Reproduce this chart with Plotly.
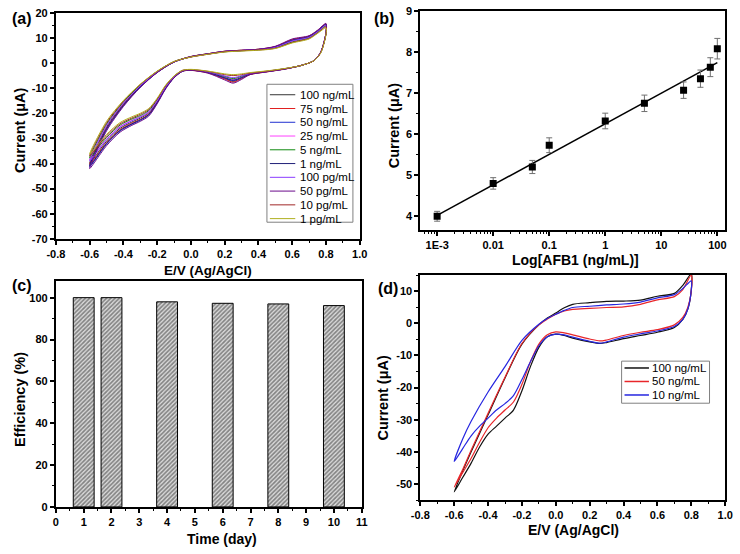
import plotly.graph_objects as go

W, H = 740, 554

# ---------------- Panel (a) data ----------------
a_names = ["100 ng/mL", "75 ng/mL", "50 ng/mL", "25 ng/mL", "5 ng/mL",
           "1 ng/mL", "100 pg/mL", "50 pg/mL", "10 pg/mL", "1 pg/mL"]
a_colors = ["#333333", "#e02020", "#2030d0", "#ff40ff", "#108a10",
            "#202078", "#8a3cff", "#6a0a8a", "#a02828", "#b0b020"]
a_x_fwd = [-0.6, -0.5, -0.4, -0.3, -0.2, -0.1, 0.0, 0.1, 0.2, 0.3, 0.4, 0.5, 0.6, 0.7, 0.75, 0.8]
a_x_rev = [0.8, 0.77, 0.73, 0.65, 0.55, 0.45, 0.35, 0.3, 0.25, 0.2, 0.1, 0.0, -0.05, -0.1,
           -0.15, -0.2, -0.25, -0.3, -0.35, -0.42, -0.5, -0.6]
a_fwd = [
    [-40, -25.5, -16.3, -9.2, -3.6, 0.5, 2.6, 3.7, 4.7, 5.1, 5.5, 6.5, 9.2, 10.6, 12.8, 15.5],
    [-40.5, -26, -16.6, -9.4, -3.7, 0.5, 2.6, 3.7, 4.7, 5.1, 5.5, 6.6, 9.4, 10.8, 13, 15.6],
    [-41.3, -26.5, -17, -9.5, -3.7, 0.4, 2.5, 3.6, 4.6, 5.0, 5.4, 6.4, 9.0, 10.5, 12.7, 15.3],
    [-38.6, -24.8, -15.8, -8.9, -3.4, 0.5, 2.5, 3.6, 4.6, 5.0, 5.4, 6.2, 8.6, 10.2, 12.4, 15.0],
    [-37.8, -24.3, -15.5, -8.7, -3.3, 0.6, 2.5, 3.6, 4.5, 4.9, 5.3, 6.1, 8.4, 10.0, 12.2, 14.8],
    [-41, -26.2, -16.8, -9.5, -3.7, 0.4, 2.5, 3.6, 4.6, 5.0, 5.4, 6.4, 9.0, 10.5, 12.7, 15.4],
    [-39, -25, -16, -9, -3.5, 0.5, 2.5, 3.6, 4.6, 5.0, 5.4, 6.3, 8.8, 10.3, 12.5, 15.1],
    [-42, -27, -17.3, -9.7, -3.8, 0.4, 2.6, 3.7, 4.7, 5.1, 5.5, 6.7, 9.6, 10.9, 13.1, 15.8],
    [-37, -23.8, -15.2, -8.5, -3.3, 0.6, 2.4, 3.5, 4.5, 4.9, 5.2, 5.9, 8.2, 9.8, 12.0, 14.4],
    [-36.3, -23.2, -14.9, -8.4, -3.2, 0.6, 2.4, 3.5, 4.4, 4.8, 5.1, 5.8, 8.0, 9.6, 11.8, 14.0],
]
a_rev = [
    [11.8, 4.4, 1, -1, -2.4, -3.4, -4.5, -6.0, -7.3, -6.1, -3.8, -2.8, -3.2, -5.6, -9.7, -15.3, -19.9, -21.9, -23.5, -26, -31.1, -40],
    [12, 4.5, 1, -1, -2.4, -3.5, -4.6, -6.2, -7.6, -6.3, -3.9, -2.9, -3.2, -5.7, -9.9, -15.6, -20.3, -22.4, -23.9, -26.5, -31.7, -40.5],
    [11.9, 4.5, 1, -1, -2.4, -3.4, -4.4, -5.8, -7.0, -5.9, -3.7, -2.8, -3.2, -5.8, -10.1, -15.9, -20.7, -22.8, -24.4, -27, -32.3, -41.3],
    [12, 4.5, 1, -1, -2.4, -3.4, -4.3, -5.4, -6.5, -5.5, -3.6, -2.8, -3.1, -5.4, -9.4, -14.9, -19.3, -21.3, -22.8, -25.2, -30.2, -38.6],
    [11.8, 4.4, 1, -1, -2.3, -3.3, -4.2, -5.2, -6.2, -5.3, -3.5, -2.7, -3.0, -5.3, -9.2, -14.6, -18.9, -20.9, -22.3, -24.7, -29.6, -37.8],
    [12, 4.5, 1, -1, -2.4, -3.4, -4.4, -5.7, -6.8, -5.8, -3.7, -2.8, -3.2, -5.8, -10, -15.8, -20.5, -22.6, -24.2, -26.8, -32, -41],
    [12, 4.5, 1, -1, -2.3, -3.3, -4.2, -5.0, -5.8, -5.1, -3.5, -2.7, -3.1, -5.5, -9.5, -15, -19.5, -21.5, -23, -25.5, -30.5, -39],
    [12.1, 4.6, 1, -1, -2.5, -3.5, -4.6, -6.5, -8.0, -6.7, -4.0, -2.9, -3.3, -5.9, -10.3, -16.2, -21.1, -23.2, -24.8, -27.5, -32.9, -42],
    [11.6, 4.3, 1, -1, -2.3, -3.2, -4.0, -4.6, -5.0, -4.6, -3.3, -2.6, -2.9, -5.2, -9.0, -14.3, -18.5, -20.4, -21.9, -24.2, -29, -37],
    [11.4, 4.2, 1, -1, -2.2, -3.1, -3.8, -4.3, -4.6, -4.3, -3.2, -2.5, -2.9, -5.1, -8.8, -14, -18.1, -20, -21.4, -23.7, -28.4, -36.3],
]

# ---------------- Panel (b) data ----------------
b_conc = [0.001, 0.01, 0.05, 0.1, 1, 5, 25, 50, 75, 100]
b_current = [4.0, 4.8, 5.2, 5.73, 6.32, 6.75, 7.07, 7.35, 7.63, 8.08]
b_err = [0.12, 0.14, 0.16, 0.18, 0.19, 0.2, 0.2, 0.21, 0.23, 0.25]
b_fit_x = [0.001, 100]
b_fit_y = [4.02, 7.74]
b_tickvals = [0.001, 0.01, 0.1, 1, 10, 100]
b_ticktext = ["1E-3", "0.01", "0.1", "1", "10", "100"]

# ---------------- Panel (c) data ----------------
c_days = [1, 2, 4, 6, 8, 10]
c_eff = [100, 100, 98, 97.3, 97, 96.2]

# ---------------- Panel (d) data ----------------
d_names = ["100 ng/mL", "50 ng/mL", "10 ng/mL"]
d_colors = ["#111111", "#e8262a", "#2626e0"]
d_x_fwd = [-0.6, -0.55, -0.5, -0.4, -0.3, -0.2, -0.1, -0.05, 0.0, 0.05, 0.1, 0.2, 0.3, 0.4, 0.5, 0.6, 0.7, 0.75, 0.8]
d_x_rev = [0.8, 0.78, 0.75, 0.7, 0.6, 0.5, 0.4, 0.3, 0.26, 0.2, 0.1, 0.05, 0.0, -0.05, -0.1,
           -0.15, -0.2, -0.25, -0.3, -0.35, -0.4, -0.45, -0.5, -0.55, -0.6]
d_fwd = [
    [-52.5, -46, -40, -28.5, -17, -6.5, -0.5, 1.6, 3.2, 4.8, 5.9, 6.4, 6.8, 6.9, 7.2, 8.4, 9.3, 11.8, 15.4],
    [-51, -45.5, -39.5, -28, -16.8, -6.3, -0.5, 1.3, 2.8, 3.8, 4.3, 4.6, 4.9, 5.1, 5.9, 7.3, 8.3, 10.5, 15.0],
    [-43, -36, -30.5, -21.4, -13.5, -5.3, -0.3, 1.5, 2.8, 4.0, 4.9, 5.3, 5.7, 6.0, 6.6, 7.9, 8.9, 10.8, 13.2],
]
d_rev = [
    [10.3, 4.5, 1.2, -1.3, -2.8, -3.8, -4.8, -6.0, -6.3, -5.8, -4.6, -3.8, -3.4, -4.2, -7.5, -13.5, -21, -27, -29.5, -32, -34.5, -38.5, -43.5, -48, -52.5],
    [10.0, 5.0, 1.8, -0.5, -2.0, -2.8, -3.8, -5.2, -5.5, -4.9, -3.6, -3.0, -2.7, -3.6, -6.5, -12, -19, -24.5, -27, -29.5, -32.5, -37, -42, -46.5, -51],
    [10.5, 4.5, 1.2, -1.0, -2.4, -3.3, -4.3, -5.8, -6.2, -5.6, -4.3, -3.6, -3.4, -4.2, -7.0, -12, -17.5, -22.5, -25, -27, -29.5, -32, -35, -39, -43],
]

# tick labels (plain hyphen minus as in the original)
e_tickvals = [-0.8, -0.6, -0.4, -0.2, 0.0, 0.2, 0.4, 0.6, 0.8, 1.0]
e_ticktext = ["-0.8", "-0.6", "-0.4", "-0.2", "0.0", "0.2", "0.4", "0.6", "0.8", "1.0"]
a_ytickvals = [20, 10, 0, -10, -20, -30, -40, -50, -60, -70]
a_yticktext = ["20", "10", "0", "-10", "-20", "-30", "-40", "-50", "-60", "-70"]
d_ytickvals = [10, 0, -10, -20, -30, -40, -50]
d_yticktext = ["10", "0", "-10", "-20", "-30", "-40", "-50"]

FONT = "Liberation Sans, Arial, sans-serif"


def pxx(x):
    return x / W


def pxy(y):
    return 1 - y / H


fig = go.Figure()

for name, col, yf, yr in zip(a_names, a_colors, a_fwd, a_rev):
    fig.add_trace(go.Scatter(x=a_x_fwd + a_x_rev, y=yf + yr, mode="lines", name=name,
                             line=dict(color=col, width=1, shape="spline", smoothing=0.8),
                             showlegend=False, xaxis="x", yaxis="y"))

fig.add_trace(go.Scatter(x=b_fit_x, y=b_fit_y, mode="lines", line=dict(color="black", width=1.5),
                         showlegend=False, xaxis="x2", yaxis="y2"))
fig.add_trace(go.Scatter(x=b_conc, y=b_current, mode="markers",
                         marker=dict(symbol="square", size=7, color="black"),
                         error_y=dict(type="data", array=b_err, color="#707070", thickness=1, width=3),
                         showlegend=False, xaxis="x2", yaxis="y2"))

fig.add_trace(go.Bar(x=c_days, y=c_eff, width=0.75,
                     marker=dict(color="#dcdcdc", line=dict(color="black", width=1),
                                 pattern=dict(shape="/", fgcolor="#2a2a2a", bgcolor="#dcdcdc",
                                              size=3, solidity=0.55)),
                     showlegend=False, xaxis="x3", yaxis="y3"))

for name, col, yf, yr in zip(d_names, d_colors, d_fwd, d_rev):
    fig.add_trace(go.Scatter(x=d_x_fwd + d_x_rev, y=yf + yr, mode="lines", name=name,
                             line=dict(color=col, width=1.2, shape="spline", smoothing=0.8),
                             showlegend=False, xaxis="x4", yaxis="y4"))


def axis(**kw):
    d = dict(showline=True, linewidth=2, linecolor="black", mirror=True, ticks="outside",
             ticklen=4, tickwidth=1.5, tickcolor="black", showgrid=False, zeroline=False,
             tickfont=dict(family=FONT, size=11, color="black", weight="bold"))
    d.update(kw)
    return d


minor_x = dict(ticks="outside", ticklen=2, tickwidth=1, tickcolor="black", tickmode="linear",
               tick0=-0.8, dtick=0.1, showgrid=False)

fig.update_layout(
    width=W, height=H, margin=dict(l=0, r=0, t=0, b=0),
    plot_bgcolor="white", paper_bgcolor="white", showlegend=False,
    font=dict(family=FONT, color="black"),
    xaxis=axis(domain=[pxx(48), pxx(359)], anchor="y", range=[-0.8, 1.0],
               tickmode="array", tickvals=e_tickvals, ticktext=e_ticktext, minor=minor_x),
    yaxis=axis(domain=[pxy(238), pxy(7)], anchor="x", range=[-70, 20],
               tickmode="array", tickvals=a_ytickvals, ticktext=a_yticktext,
               minor=dict(ticks="outside", ticklen=2, tickwidth=1, tickcolor="black",
                          tickmode="linear", tick0=0, dtick=5)),
    xaxis2=axis(domain=[pxx(421), pxx(733)], anchor="y2", type="log", range=[-3.3, 2.14],
                tickmode="array", tickvals=b_tickvals, ticktext=b_ticktext,
                minor=dict(ticks="outside", ticklen=2, tickwidth=1, tickcolor="black", dtick="D1")),
    yaxis2=axis(domain=[pxy(229), pxy(5)], anchor="x2", range=[3.665, 9], dtick=1,
                minor=dict(ticks="outside", ticklen=2, tickwidth=1, tickcolor="black", dtick=0.5)),
    xaxis3=axis(domain=[pxx(48), pxx(361)], anchor="y3", range=[0, 11], dtick=1,
                minor=dict(ticks="outside", ticklen=2, tickwidth=1, tickcolor="black", dtick=0.5)),
    yaxis3=axis(domain=[pxy(512), pxy(281)], anchor="x3", range=[0, 108], dtick=20,
                minor=dict(ticks="outside", ticklen=2, tickwidth=1, tickcolor="black", dtick=10)),
    xaxis4=axis(domain=[pxx(421), pxx(733)], anchor="y4", range=[-0.8, 1.0],
                tickmode="array", tickvals=e_tickvals, ticktext=e_ticktext, minor=minor_x),
    yaxis4=axis(domain=[pxy(505), pxy(275)], anchor="x4", range=[-55, 15],
                tickmode="array", tickvals=d_ytickvals, ticktext=d_yticktext,
                minor=dict(ticks="outside", ticklen=2, tickwidth=1, tickcolor="black",
                           tickmode="linear", tick0=0, dtick=5)),
)

ann = []
shapes = []


def text(x, y, s, size=13, bold=True, angle=0, xanchor="center"):
    ann.append(dict(x=pxx(x), y=pxy(y), xref="paper", yref="paper", text=s, showarrow=False,
                    textangle=angle, xanchor=xanchor, yanchor="middle",
                    font=dict(family=FONT, size=size, color="black",
                              weight="bold" if bold else "normal")))


# axis titles
text(204, 270, "E/V (Ag/AgCl)", 13.5)
text(12, 127, "Current (\u03bcA)", 14.5, angle=-90)
text(580, 260, "Log[AFB1 (ng/mL)]", 14)
text(394, 122, "Current (\u03bcA)", 14.5, angle=-90)
text(218, 545, "Time (day)", 14)
text(12, 402, "Efficiency (%)", 14.5, angle=-90)
text(578, 536, "E/V (Ag/AgCl)", 14)
text(383, 400, "Current (\u03bcA)", 14.5, angle=-90)

# panel labels
text(1, 13, "(a)", 16, xanchor="left")
text(372, 13, "(b)", 16, xanchor="left")
text(1, 286, "(c)", 16, xanchor="left")
text(376, 289, "(d)", 16, xanchor="left")


def legend_box(x0, y0, x1, y1, names, colors, first_y, step, lx0, lx1, tx, lw):
    shapes.append(dict(type="rect", xref="paper", yref="paper", x0=pxx(x0), x1=pxx(x1),
                       y0=pxy(y1), y1=pxy(y0), line=dict(color="#808080", width=1),
                       fillcolor="white", layer="above"))
    for i, (n, c) in enumerate(zip(names, colors)):
        yy = first_y + i * step
        shapes.append(dict(type="line", xref="paper", yref="paper", x0=pxx(lx0), x1=pxx(lx1),
                           y0=pxy(yy), y1=pxy(yy), line=dict(color=c, width=lw), layer="above"))
        text(tx, yy, n, 11.5, bold=False, xanchor="left")


legend_box(264, 80, 352, 221, a_names, a_colors, 90.7, 14.07, 267, 293, 296, 1)
legend_box(627, 363, 717, 406, d_names, d_colors, 370, 13.8, 630, 655, 656, 1.5)

fig.update_layout(annotations=ann, shapes=shapes)

fig.write_html("out.html", config={"displayModeBar": False},
               post_script="document.body.style.margin='0px';document.body.style.overflow='hidden';")
